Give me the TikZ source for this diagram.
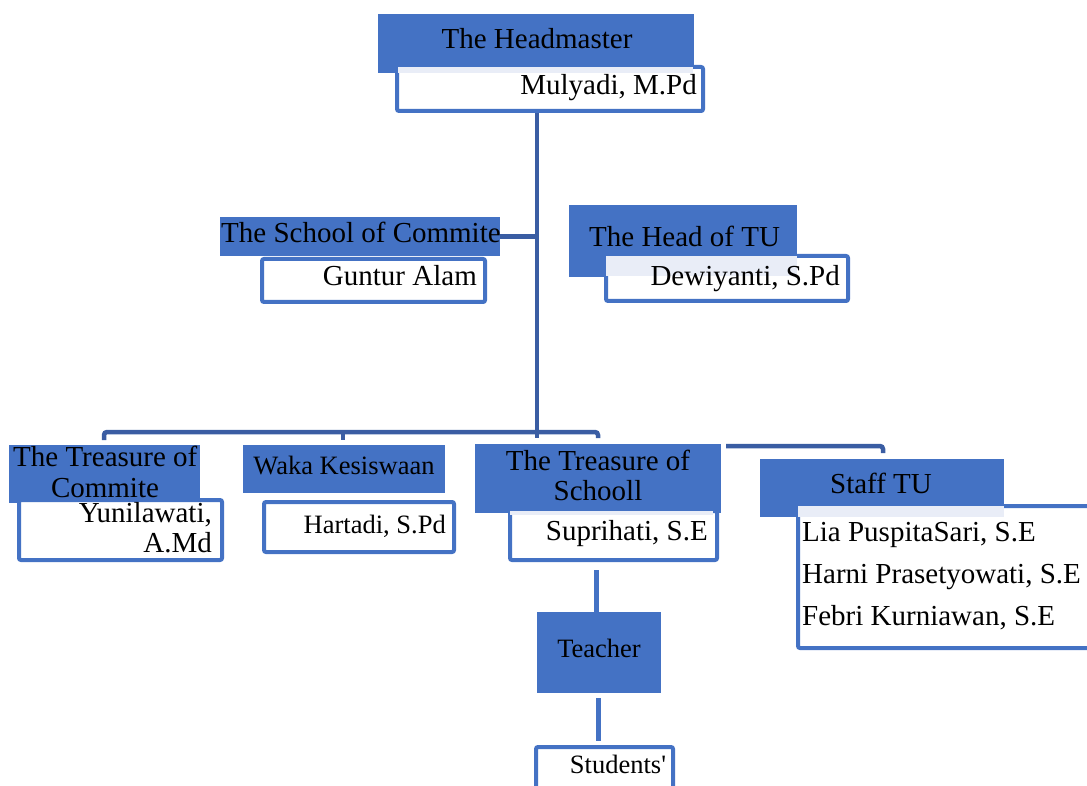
\documentclass[tikz,border=0pt]{standalone}
\usepackage{fontspec}
\setmainfont{Liberation Serif}
\definecolor{bfill}{HTML}{4472C4}
\definecolor{bline}{HTML}{3A5DA3}
\definecolor{tint}{HTML}{E9EDF7}
\tikzset{
  head/.style={fill=bfill, draw=none, inner sep=0, anchor=north west},
  namebox/.style={fill=white, draw=bfill, line width=4pt, rounded corners=2pt, inner sep=0, anchor=north west},
  tintbox/.style={fill=tint, draw=none, inner sep=0, anchor=north west},
  conn/.style={draw=bline, line width=4.5pt, rounded corners=3pt},
  conn2/.style={draw=bfill, line width=5pt},
  big/.style={font=\fontsize{29}{33}\selectfont, inner sep=0},
  small/.style={font=\fontsize{26.5}{30}\selectfont, inner sep=0},
}
\begin{document}
\begin{tikzpicture}[x=1pt,y=-1pt]
\useasboundingbox (0,0) rectangle (1087,786);
% coordinates for connectors
\coordinate (j) at (537,432);
\coordinate (jbot) at (537,438);
\coordinate (bl) at (104,440);
\coordinate (bm) at (343,440);
\coordinate (br) at (598,438);
\coordinate (sl) at (726,446);
\coordinate (sr) at (883,453);
\coordinate (t1) at (596,570);
\coordinate (t2) at (598,698);
\coordinate (t2e) at (598,741);

% Headmaster
\node[head, minimum width=316, minimum height=59] (hm) at (378,14) {};
\node[big, anchor=base] (hmt) at (537,49) {The Headmaster};
\node[namebox, minimum width=306, minimum height=44] (hmn) at (395,65) {};
\node[tintbox, minimum width=295, minimum height=6] (hmtint) at (398,67) {};
\node[big, anchor=base east] (hmnt) at (697,95) {Mulyadi, M.Pd};

% School of Commite
\node[head, minimum width=280, minimum height=39] (sc) at (220,217) {};
\node[big, anchor=base west] (sct) at (221,243) {The School of Commite};
\node[namebox, minimum width=223, minimum height=43] (scn) at (260,257) {};
\node[big, anchor=base east] (scnt) at (477,286) {Guntur Alam};

% Head of TU
\node[head, minimum width=228, minimum height=72] (tu) at (569,205) {};
\node[big, anchor=base west] (tut) at (589,247) {The Head of TU};
\node[namebox, minimum width=242, minimum height=45] (tun) at (604,254) {};
\node[tintbox, minimum width=191, minimum height=20] (tutint) at (606,256) {};
\node[big, anchor=base east] (tunt) at (840,286) {Dewiyanti, S.Pd};

% Treasure of Commite
\node[head, minimum width=191, minimum height=58] (tc) at (9,445) {};
\node[big, anchor=base west] (tct1) at (13,466) {The Treasure of};
\node[big, anchor=base] (tct2) at (105,497) {Commite};
\node[namebox, minimum width=203, minimum height=60] (tcn) at (17,498) {};
\node[big, anchor=base east] (tcnt1) at (212,522) {Yunilawati,};
\node[big, anchor=base east] (tcnt2) at (212,552) {A.Md};

% Waka Kesiswaan
\node[head, minimum width=202, minimum height=48] (wk) at (243,445) {};
\node[small, anchor=base] (wkt) at (344,474) {Waka Kesiswaan};
\node[namebox, minimum width=190, minimum height=50] (wkn) at (262,500) {};
\node[small, anchor=base east] (wknt) at (446,533) {Hartadi, S.Pd};

% Treasure of Schooll
\node[head, minimum width=246, minimum height=69] (ts) at (475,444) {};
\node[big, anchor=base] (tst1) at (598,470) {The Treasure of};
\node[big, anchor=base] (tst2) at (598,500) {Schooll};
\node[namebox, minimum width=207, minimum height=49] (tsn) at (508,509) {};
\node[tintbox, minimum width=203, minimum height=4] (tstint) at (510,511) {};
\node[big, anchor=base east] (tsnt) at (708,540) {Suprihati, S.E};

% Staff TU
\node[head, minimum width=244, minimum height=58] (st) at (760,459) {};
\node[big, anchor=base] (stt) at (881,493) {Staff TU};
\node[namebox, minimum width=300, minimum height=142] (stn) at (796,504) {};
\node[tintbox, minimum width=206, minimum height=11] (sttint) at (798,506) {};
\node[big, anchor=base west] (stn1) at (802,541) {Lia PuspitaSari, S.E};
\node[big, anchor=base west] (stn2) at (802,583) {Harni Prasetyowati, S.E};
\node[big, anchor=base west] (stn3) at (802,625) {Febri Kurniawan, S.E};

% Teacher
\node[head, minimum width=124, minimum height=81] (te) at (537,612) {};
\node[small, anchor=base] (tet) at (599,657) {Teacher};

% Students
\node[namebox, minimum width=137, minimum height=70] (su) at (534,745) {};
\node[small, anchor=base] (sut) at (618,773) {Students\textquotesingle};

% connectors
\draw[conn] (hmn.south -| j) -- (jbot);
\draw[conn] (bl) |- (j) -| (br);
\draw[conn] (bm |- j) -- (bm);
\draw[conn] (sc.east) -- (sc.east -| j);
\draw[conn] (sl) -| (sr);
\draw[conn2] (t1) -- (te.north -| t1);
\draw[conn2] (t2) -- (t2e);
\end{tikzpicture}
\end{document}
